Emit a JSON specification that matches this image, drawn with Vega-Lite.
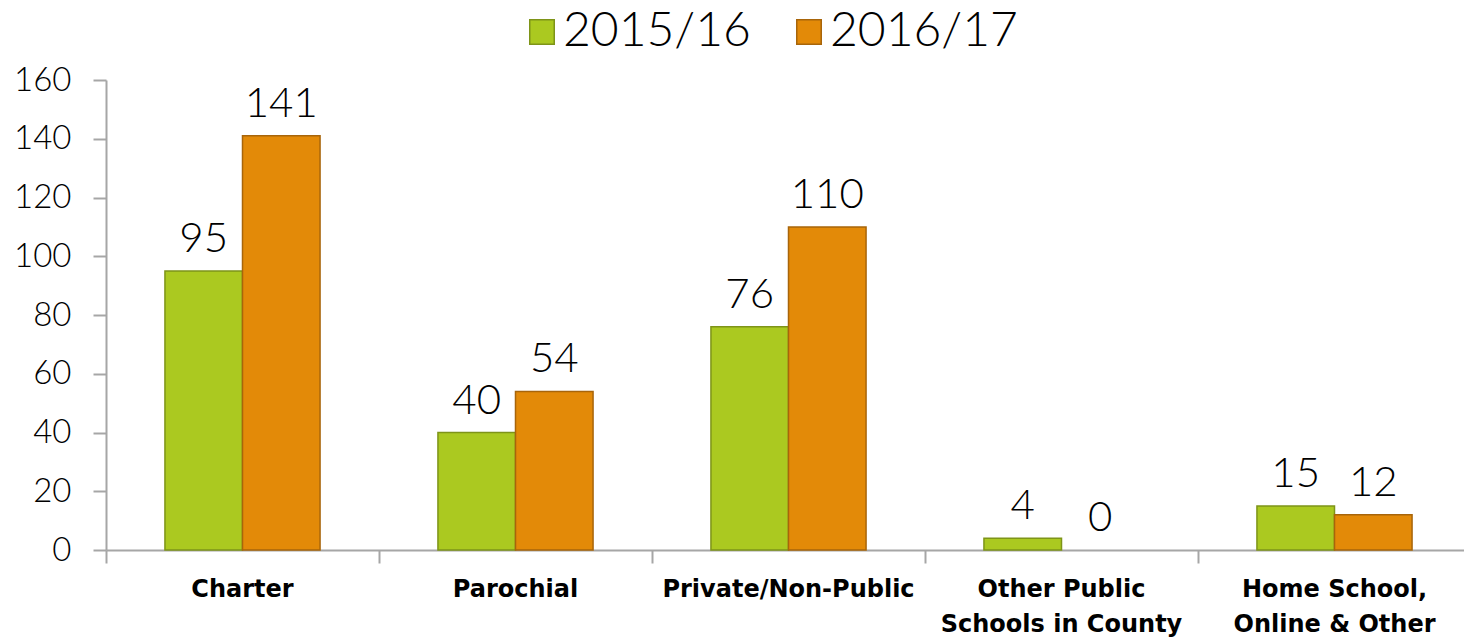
{
  "$schema": "https://vega.github.io/schema/vega-lite/v6.json",
  "autosize": "none",
  "width": 1365,
  "height": 470,
  "padding": {"left": 106, "top": 80, "right": 0, "bottom": 91},
  "background": "white",
  "config": {"view": {"stroke": null}, "font": "Lato"},
  "data": {
    "values": [
      {"category": "Charter", "year": "2015/16", "value": 95},
      {"category": "Charter", "year": "2016/17", "value": 141},
      {"category": "Parochial", "year": "2015/16", "value": 40},
      {"category": "Parochial", "year": "2016/17", "value": 54},
      {"category": "Private/Non-Public", "year": "2015/16", "value": 76},
      {"category": "Private/Non-Public", "year": "2016/17", "value": 110},
      {"category": "Other Public Schools in County", "year": "2015/16", "value": 4},
      {"category": "Other Public Schools in County", "year": "2016/17", "value": 0},
      {"category": "Home School, Online & Other", "year": "2015/16", "value": 15},
      {"category": "Home School, Online & Other", "year": "2016/17", "value": 12}
    ]
  },
  "encoding": {
    "x": {
      "field": "category",
      "type": "nominal",
      "sort": null,
      "scale": {"paddingInner": 0, "paddingOuter": 0},
      "axis": {
        "title": null,
        "labelAngle": 0,
        "labelFont": "DejaVu Sans",
        "labelFontWeight": "bold",
        "labelFontSize": 24,
        "labelColor": "#000000",
        "labelLimit": 0,
        "labelPadding": 14,
        "labelLineHeight": 35,
        "labelBaseline": "top",
        "bandPosition": 0,
        "tickSize": 13,
        "tickWidth": 2,
        "tickColor": "#a6a6a6",
        "domainColor": "#a6a6a6",
        "domainWidth": 2,
        "labelExpr": "datum.value == 'Other Public Schools in County' ? ['Other Public', 'Schools in County'] : datum.value == 'Home School, Online & Other' ? ['Home School,', 'Online & Other'] : datum.value"
      }
    },
    "xOffset": {
      "field": "year",
      "type": "nominal",
      "scale": {"paddingInner": 0, "paddingOuter": 0.76}
    },
    "y": {
      "field": "value",
      "type": "quantitative",
      "scale": {"domain": [0, 160], "nice": false},
      "axis": {
        "title": null,
        "values": [0, 20, 40, 60, 80, 100, 120, 140, 160],
        "grid": false,
        "labelFont": "Lato",
        "labelFontWeight": 300,
        "labelFontSize": 33,
        "labelColor": "#000000",
        "labelPadding": 22,
        "tickSize": 13,
        "tickWidth": 2,
        "tickColor": "#a6a6a6",
        "domainColor": "#a6a6a6",
        "domainWidth": 2
      }
    }
  },
  "layer": [
    {
      "mark": {"type": "bar", "strokeWidth": 1.5},
      "encoding": {
        "fill": {
          "field": "year",
          "type": "nominal",
          "scale": {"domain": ["2015/16", "2016/17"], "range": ["#abc920", "#e38a08"]},
          "legend": {
            "title": null,
            "orient": "none",
            "direction": "horizontal",
            "legendX": 412,
            "legendY": -72,
            "symbolType": "square",
            "symbolSize": 600,
            "symbolStrokeWidth": 1.5,
            "labelFont": "Lato",
            "labelFontWeight": 300,
            "labelFontSize": 48,
            "labelLimit": 0,
            "labelColor": "#000000",
            "labelOffset": -3,
            "columnPadding": 34,
            "symbolOffset": 0
          }
        },
        "stroke": {
          "field": "year",
          "type": "nominal",
          "scale": {"domain": ["2015/16", "2016/17"], "range": ["#7e9418", "#a8650a"]},
          "legend": null
        },
        "strokeOpacity": {"condition": {"test": "datum.value == 0", "value": 0}, "value": 1}
      }
    },
    {
      "mark": {"type": "text", "baseline": "alphabetic", "dy": -19, "fontSize": 42, "font": "Lato", "fontWeight": 300, "color": "#000000"},
      "encoding": {"text": {"field": "value", "type": "quantitative"}}
    }
  ]
}
